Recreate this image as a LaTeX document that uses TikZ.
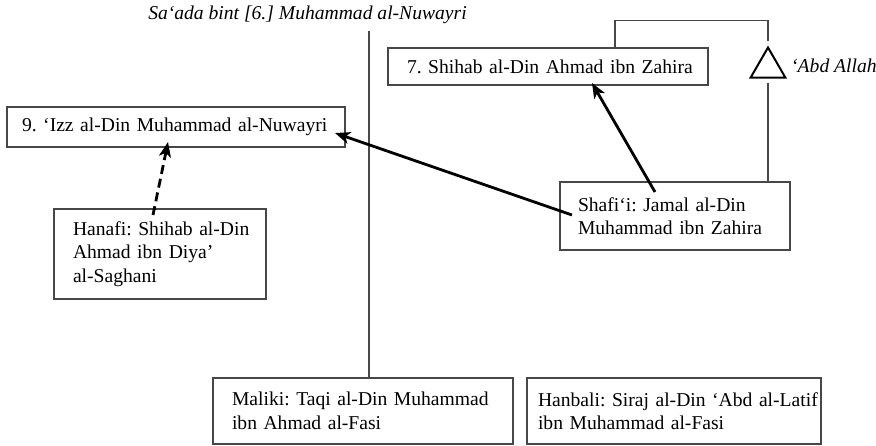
\documentclass[tikz,border=0pt]{standalone}
\usepackage{fontspec}
\setmainfont{Liberation Serif}
\usetikzlibrary{arrows.meta,shapes.geometric,calc}
\tikzset{
  famline/.style={draw=black!72, line width=1.2pt},
  famtext/.style={font=\fontsize{19.6}{23.5}\selectfont\frenchspacing},
  boxnode/.style={famline, famtext, rectangle, anchor=north west, align=left, inner ysep=0pt, outer sep=0pt},
  linkarrow/.style={line width=2.8pt, black, -{Stealth[length=15pt,width=12pt,inset=4pt]}},
  dasharrow/.style={linkarrow, dash pattern=on 9pt off 5pt},
  labeltext/.style={font=\fontsize{19.6}{23.5}\selectfont\itshape\frenchspacing, inner sep=0pt}
}
\begin{document}
\begin{tikzpicture}[x=1pt,y=-1pt]
\useasboundingbox (0,0) rectangle (876,445);

% title and vertical line
\node[labeltext] (title) at (307.5,15) {Sa‘ada bint [6.] Muhammad al-Nuwayri};
\coordinate (vtop) at (369,31);

% boxes
\node[boxnode, inner xsep=15pt, text width=308pt, minimum height=40pt] (b9) at (7,107)
  {\mbox{9. ‘Izz al-Din Muhammad al-Nuwayri}};
\node[boxnode, inner xsep=19pt, text width=282pt, minimum height=37pt] (b7) at (388,48)
  {\mbox{7. Shihab al-Din Ahmad ibn Zahira}};
\node[boxnode, inner xsep=19pt, text width=174pt, minimum height=90pt] (hanafi) at (54,209)
  {\mbox{Hanafi: Shihab al-Din}\\\mbox{Ahmad ibn Diya’}\\\mbox{al-Saghani}};
\node[boxnode, inner xsep=18pt, text width=194pt, minimum height=68pt] (shafii) at (560,182)
  {\mbox{Shafi‘i: Jamal al-Din}\\\mbox{Muhammad ibn Zahira}};
\node[boxnode, inner xsep=19pt, text width=262pt, minimum height=66pt] (maliki) at (213,378)
  {\mbox{Maliki: Taqi al-Din Muhammad}\\\mbox{ibn Ahmad al-Fasi}};
\node[boxnode, inner xsep=11pt, text width=272pt, minimum height=66pt] (hanbali) at (527,378)
  {\mbox{Hanbali: Siraj al-Din ‘Abd al-Latif}\\\mbox{ibn Muhammad al-Fasi}};

% triangle for 'Abd Allah
\node[draw=black, line width=2pt, regular polygon, regular polygon sides=3, minimum size=40pt, inner sep=0pt, outer sep=0pt] (tri) at (768,67.5) {};
\node[labeltext, anchor=base west] (abd) at (791,72) {‘Abd Allah};

% family lines
\draw[famline] (vtop) -- (vtop |- maliki.north);
\draw[famline] ([xshift=227pt]b7.north west) |- ($(tri.north)+(0,-27)$) -- ([yshift=7pt]tri.north);
\draw[famline] ([yshift=-5pt]tri.south) -- (tri.south |- shafii.north);

% arrows
\draw[linkarrow] ([xshift=95pt,yshift=-10pt]shafii.north west) -- ([xshift=204pt,yshift=2pt]b7.south west);
\draw[linkarrow] ([xshift=12pt,yshift=-33pt]shafii.north west) -- ([xshift=-10pt,yshift=-26pt]b9.north east);
\draw[dasharrow] ([xshift=99pt,yshift=-6pt]hanafi.north west) -- ([xshift=161pt,yshift=-35pt]b9.north west);
\end{tikzpicture}
\end{document}
